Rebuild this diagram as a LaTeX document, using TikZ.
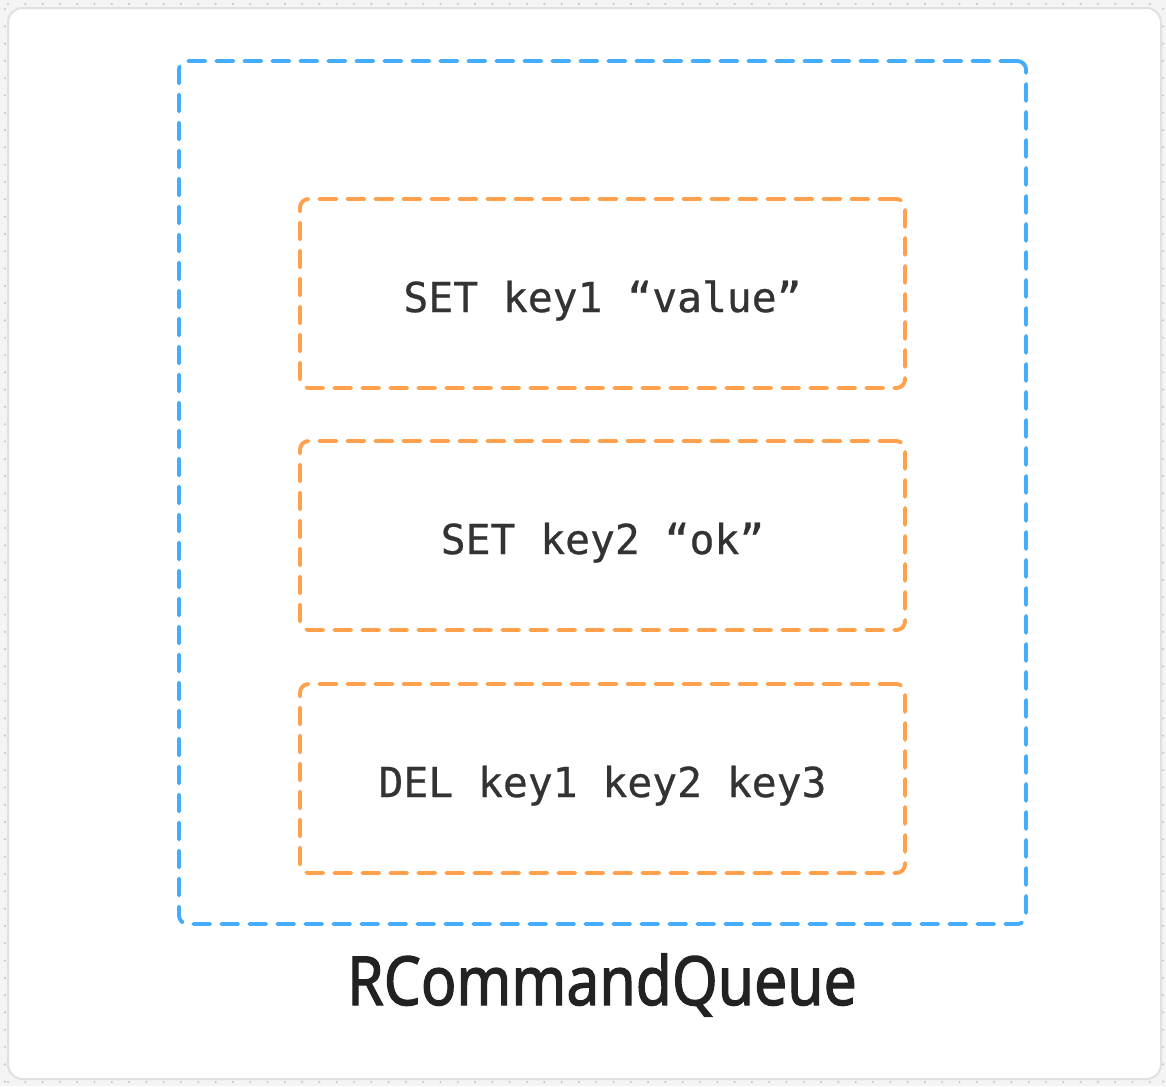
\documentclass[tikz,border=0pt]{standalone}
\usepackage{graphicx}
\usepackage{fontspec}
\setmainfont{Liberation Sans}
\newfontfamily\monofont[FakeBold=0.6]{DejaVu Sans Mono}
\newfontfamily\titlefont[FakeBold=1.8]{Noto Sans}
\definecolor{bgc}{HTML}{F4F4F4}
\definecolor{dotc}{HTML}{C8C8C8}
\definecolor{cardborder}{HTML}{E0E0E0}
\definecolor{bluec}{HTML}{45ABFC}
\definecolor{orangec}{HTML}{FFA04D}
\definecolor{txtc}{HTML}{333333}
\definecolor{titlec}{HTML}{222222}
\tikzset{
  outerbox/.style={draw=bluec, line width=2.9pt, dash pattern=on 12.75pt off 8.25pt, line cap=round, rounded corners=6.5pt},
  cmdbox/.style={draw=orangec, line width=2.9pt, dash pattern=on 12.75pt off 8.25pt, line cap=round, rounded corners=6.5pt},
  cmdtext/.style={text=txtc, anchor=base, font=\monofont\fontsize{31}{37}\selectfont},
  titletext/.style={text=titlec, anchor=base, font=\titlefont\fontsize{45}{54}\selectfont}
}
\begin{document}
\begin{tikzpicture}[x=0.75pt,y=-0.75pt]
\useasboundingbox (0,0) rectangle (1166,1086);
\fill[bgc] (0,0) rectangle (1166,1086);
\foreach \i in {0,...,62} {
  \fill[dotc] (5,{9+17.3*\i}) circle (0.9pt);
  \fill[dotc] (1163,{9+17.3*\i}) circle (0.9pt);
}
\foreach \i in {0,...,67} {
  \fill[dotc] ({8+17.3*\i},1082) circle (0.9pt);
  \fill[dotc] ({8+17.3*\i},4) circle (0.9pt);
}
\draw[cardborder, fill=white, line width=1.5pt, rounded corners=11pt] (8,8) rectangle (1161,1079);
\node[outerbox, minimum width=847*0.75pt, minimum height=863*0.75pt, inner sep=0pt] (queue) at (602.5,492.5) {};
\node[cmdbox, minimum width=605*0.75pt, minimum height=189*0.75pt, inner sep=0pt] (c1) at (602.5,293.5) {};
\node[cmdbox, minimum width=605*0.75pt, minimum height=189*0.75pt, inner sep=0pt] (c2) at (602.5,535.5) {};
\node[cmdbox, minimum width=605*0.75pt, minimum height=189*0.75pt, inner sep=0pt] (c3) at (602.5,778.5) {};
\node[cmdtext] (t1) at ([yshift=-13.9pt]c1.center) {SET key1 “value”};
\node[cmdtext] (t2) at ([yshift=-13.9pt]c2.center) {SET key2 “ok”};
\node[cmdtext] (t3) at ([yshift=-13.9pt]c3.center) {DEL key1 key2 key3};
\node[titletext] (title) at (602,1005) {\scalebox{0.98}[1.13]{RCommandQueue}};
\end{tikzpicture}
\end{document}
